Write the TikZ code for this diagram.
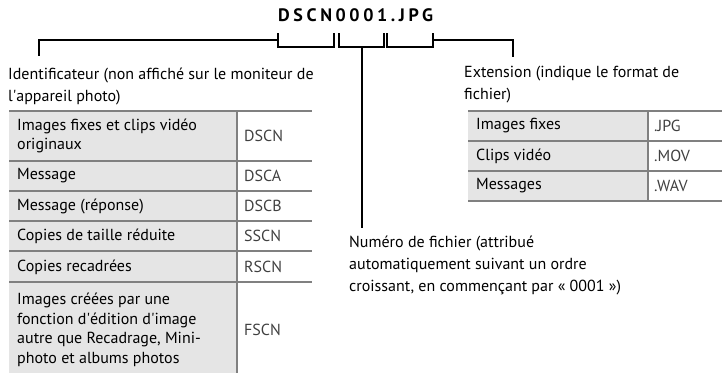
\documentclass[tikz,border=0pt]{standalone}
\usepackage{fontspec}
\setmainfont{PT Sans}
\newfontfamily\namefont[LetterSpace=20]{PT Sans}
\definecolor{rulegray}{gray}{0.5}
\definecolor{cellgray}{gray}{0.9}
\begin{document}
\begin{tikzpicture}[x=1pt,y=-1pt,
  leader/.style={line width=2pt},
  tablerule/.style={line width=2.5pt,draw=rulegray},
  note/.style={anchor=west,inner sep=0pt,align=left,font=\fontsize{16}{22}\selectfont},
  cell/.style={anchor=west,inner sep=0pt,align=left,font=\fontsize{16}{19.5}\selectfont},
  codecell/.style={cell,text=black!75}]
\useasboundingbox (0,0) rectangle (722,373);
% coordinates
\coordinate (b1a)    at (278,33);
\coordinate (b1b)    at (334,47);
\coordinate (b2a)    at (339,33);
\coordinate (b2b)    at (384,47);
\coordinate (b3a)    at (387,33);
\coordinate (b3b)    at (433,47);
\coordinate (b1mid)  at (278,40);
\coordinate (b3mid)  at (433,40);
\coordinate (b2mid)  at (361.5,47);
\coordinate (idend)  at (39,56);
\coordinate (extend) at (513,57);
\coordinate (numend) at (361.5,228);
% file name
\node (fname) at (278,15) [anchor=west,inner sep=0pt,font=\namefont\bfseries\fontsize{18}{18}\selectfont] {DSCN0001.JPG};
% brackets
\draw[leader] (b1a) |- (b1b) -- (b1b |- b1a);
\draw[leader] (b2a) |- (b2b) -- (b2b |- b2a);
\draw[leader] (b3a) |- (b3b) -- (b3b |- b3a);
% leaders
\draw[leader] (b1mid) -| (idend);
\draw[leader] (b3mid) -| (extend);
\draw[leader] (b2mid) -- (numend);
% labels
\node (idnote)  at (8,86)    [note] {Identificateur (non affiché sur le moniteur de\\l\textquotesingle appareil photo)};
\node (extnote) at (464,85)  [note] {Extension (indique le format de\\fichier)};
\node (numnote) at (349,265) [note] {Numéro de fichier (attribué\\automatiquement suivant un ordre\\croissant, en commençant par « 0001 »)};
% identifier table
\fill[cellgray] (9,111) rectangle (237,373);
\draw[tablerule] (9,111) -- (312,111);
\draw[tablerule] (9,161) -- (312,161);
\draw[tablerule] (9,191) -- (312,191);
\draw[tablerule] (9,221) -- (312,221);
\draw[tablerule] (9,251) -- (312,251);
\draw[tablerule] (9,282) -- (312,282);
\draw[tablerule] (237,111) -- (237,373);
\node (idrow1) at (17,136) [cell] {Images fixes et clips vidéo\\originaux};
\node (idrow2) at (17,176) [cell] {Message};
\node (idrow3) at (17,206) [cell] {Message (réponse)};
\node (idrow4) at (17,236) [cell] {Copies de taille réduite};
\node (idrow5) at (17,267) [cell] {Copies recadrées};
\node (idrow6) at (17,330) [cell] {Images créées par une\\fonction d\textquotesingle édition d\textquotesingle image\\autre que Recadrage, Mini-\\photo et albums photos};
\node (idcode1) at (244,136) [codecell] {DSCN};
\node (idcode2) at (244,176) [codecell] {DSCA};
\node (idcode3) at (244,206) [codecell] {DSCB};
\node (idcode4) at (244,236) [codecell] {SSCN};
\node (idcode5) at (244,267) [codecell] {RSCN};
\node (idcode6) at (244,330) [codecell] {FSCN};
% extension table
\fill[cellgray] (468,111) rectangle (648,201);
\draw[tablerule] (468,111) -- (722,111);
\draw[tablerule] (468,141) -- (722,141);
\draw[tablerule] (468,171) -- (722,171);
\draw[tablerule] (468,201) -- (722,201);
\draw[tablerule] (648,111) -- (648,201);
\node (extrow1) at (476,126) [cell] {Images fixes};
\node (extrow2) at (476,156) [cell] {Clips vidéo};
\node (extrow3) at (476,186) [cell] {Messages};
\node (extcode1) at (654,126) [codecell] {.JPG};
\node (extcode2) at (654,156) [codecell] {.MOV};
\node (extcode3) at (654,186) [codecell] {.WAV};
\end{tikzpicture}
\end{document}
